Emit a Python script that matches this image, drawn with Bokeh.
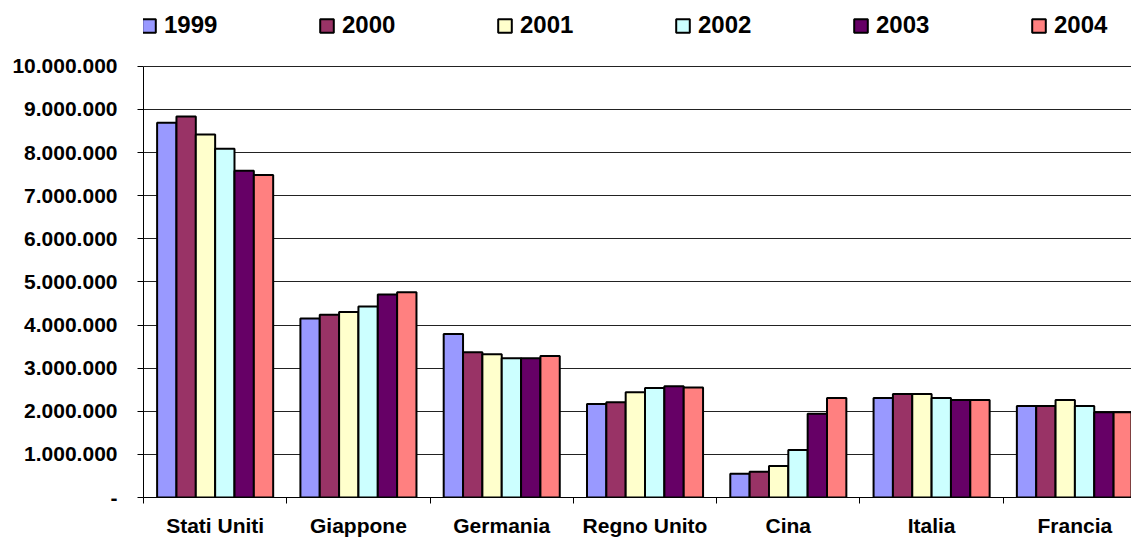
from bokeh.plotting import figure
from bokeh.models import (ColumnDataSource, Range1d, FixedTicker, Legend, LegendItem)
from bokeh.transform import dodge
from bokeh.embed import file_html
from bokeh.resources import INLINE

countries = ["Stati Uniti", "Giappone", "Germania", "Regno Unito", "Cina", "Italia", "Francia"]
years = ["1999", "2000", "2001", "2002", "2003", "2004"]
colors = ["#9999FF", "#993366", "#FFFFCC", "#CCFFFF", "#660066", "#FF8080"]

v1999 = [8690000, 4150000, 3790000, 2170000, 550000, 2310000, 2120000]
v2000 = [8840000, 4240000, 3370000, 2210000, 600000, 2400000, 2120000]
v2001 = [8420000, 4300000, 3320000, 2440000, 730000, 2400000, 2260000]
v2002 = [8090000, 4430000, 3230000, 2540000, 1100000, 2310000, 2120000]
v2003 = [7580000, 4710000, 3230000, 2580000, 1940000, 2260000, 1980000]
v2004 = [7480000, 4760000, 3280000, 2550000, 2310000, 2260000, 1980000]
series = [v1999, v2000, v2001, v2002, v2003, v2004]

y_ticks = [0, 1000000, 2000000, 3000000, 4000000, 5000000, 6000000, 7000000, 8000000, 9000000, 10000000]
y_tick_labels = ["-", "1.000.000", "2.000.000", "3.000.000", "4.000.000", "5.000.000",
                 "6.000.000", "7.000.000", "8.000.000", "9.000.000", "10.000.000"]

FONT = "Liberation Sans"

H = 498           # frame height in px (legend lives in the top strip of the frame)
AXIS_TOP_PX = 66  # where the 10.000.000 line sits from the frame top
y_max = 10000000 * H / (H - AXIS_TOP_PX)

data = {"x": [i + 0.5 for i in range(len(countries))]}
for y, vals in zip(years, series):
    data["y" + y] = vals
src = ColumnDataSource(data)

p = figure(width=1131, height=539, output_backend="svg", toolbar_location=None,
           x_range=Range1d(0, 6.895), y_range=Range1d(0, y_max),
           min_border_left=143, min_border_right=0, min_border_top=0, min_border_bottom=41)
p.background_fill_color = "white"
p.border_fill_color = "white"
p.outline_line_color = None

bw = 0.135
items = []
for j, (y, c) in enumerate(zip(years, colors)):
    r = p.vbar(x=dodge("x", (j - 2.5) * bw, range=p.x_range), top="y" + y, width=bw,
               bottom=0, source=src, fill_color=c, line_color="black", line_width=2)
    items.append(LegendItem(label=y, renderers=[r]))

# y axis
p.yaxis.bounds = (0, 10000000)
p.yaxis.ticker = FixedTicker(ticks=y_ticks, minor_ticks=[])
p.yaxis.major_label_overrides = {t: l for t, l in zip(y_ticks, y_tick_labels)}
p.yaxis.major_label_text_font = FONT
p.yaxis.major_label_text_font_style = "bold"
p.yaxis.major_label_text_font_size = "21px"
p.yaxis.major_label_text_color = "black"
p.yaxis.major_tick_out = 6
p.yaxis.major_tick_in = 0
p.yaxis.major_label_standoff = 20
p.yaxis.axis_line_color = "black"
p.yaxis.major_tick_line_color = "black"

# x axis
p.xaxis.ticker = FixedTicker(ticks=data["x"], minor_ticks=list(range(len(countries) + 1)))
p.xaxis.major_label_overrides = {x: c for x, c in zip(data["x"], countries)}
p.xaxis.major_label_text_font = FONT
p.xaxis.major_label_text_font_style = "bold"
p.xaxis.major_label_text_font_size = "21px"
p.xaxis.major_label_text_color = "black"
p.xaxis.major_tick_line_color = None
p.xaxis.major_tick_out = 0
p.xaxis.major_tick_in = 0
p.xaxis.minor_tick_out = 6
p.xaxis.minor_tick_in = 0
p.xaxis.minor_tick_line_color = "black"
p.xaxis.major_label_standoff = 10
p.xaxis.axis_line_color = "black"

p.xgrid.grid_line_color = None
p.ygrid.ticker = FixedTicker(ticks=y_ticks)
p.ygrid.grid_line_color = "#222222"
p.ygrid.grid_line_width = 1

legend = Legend(items=items, orientation="horizontal", location=(-3, 458),
                glyph_width=17, glyph_height=17, label_standoff=7, label_width=154, spacing=0,
                padding=0, margin=0, border_line_color=None, background_fill_alpha=0,
                label_text_font=FONT, label_text_font_style="bold", label_text_font_size="24px",
                label_text_color="black")
p.add_layout(legend, "center")

open("out.html", "w").write(file_html(p, INLINE))
